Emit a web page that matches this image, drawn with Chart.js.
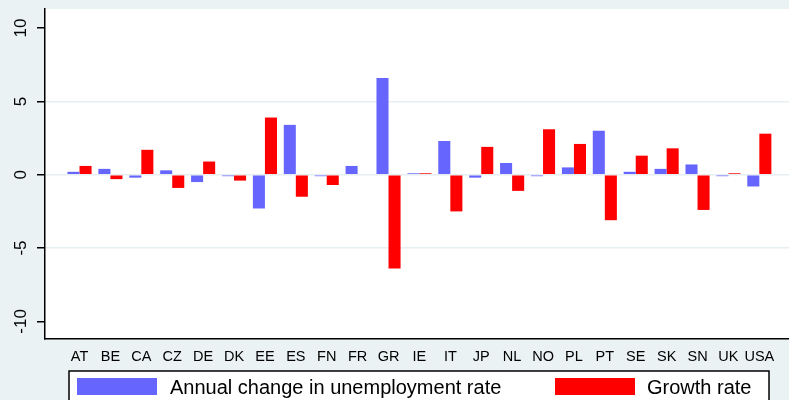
<!DOCTYPE html>
<html>
<head>
<meta charset="utf-8">
<script src="https://cdn.jsdelivr.net/npm/chart.js@4/dist/chart.umd.min.js"></script>
<style>
  html, body { margin: 0; padding: 0; background: #eaf2f3; }
  #wrap { width: 789px; height: 400px; position: relative; }
</style>
</head>
<body>
<div id="wrap"><canvas id="c" width="789" height="400"></canvas></div>
<script>
const countries = ['AT','BE','CA','CZ','DE','DK','EE','ES','FN','FR','GR','IE','IT','JP','NL','NO','PL','PT','SE','SK','SN','UK','USA'];
const unemploymentChange = [0.2, 0.4, -0.2, 0.3, -0.5, -0.1, -2.3, 3.4, -0.1, 0.6, 6.6, 0.1, 2.3, -0.2, 0.8, -0.1, 0.5, 3.0, 0.2, 0.4, 0.7, -0.1, -0.8];
const growthRate = [0.6, -0.3, 1.7, -0.9, 0.9, -0.4, 3.9, -1.5, -0.7, 0, -6.4, 0.1, -2.5, 1.9, -1.1, 3.1, 2.1, -3.1, 1.3, 1.8, -2.4, 0.1, 2.8];
const yTicks = [-10, -5, 0, 5, 10];
const seriesNames = ['Annual change in unemployment rate', 'Growth rate'];
const seriesColors = ['#6666ff', '#ff0000'];

const FONT = "'Liberation Sans', Arial, sans-serif";

const bgPlugin = {
  id: 'plotBg',
  beforeDraw(chart) {
    const {ctx, chartArea: a} = chart;
    ctx.save();
    ctx.fillStyle = '#ffffff';
    ctx.fillRect(a.left, a.top, a.right - a.left, a.bottom - a.top);
    ctx.restore();
  }
};

const legendPlugin = {
  id: 'boxLegend',
  afterDraw(chart) {
    const ctx = chart.ctx;
    ctx.save();
    ctx.fillStyle = '#ffffff';
    ctx.fillRect(69, 371, 700, 40);
    ctx.strokeStyle = '#000000';
    ctx.lineWidth = 1.5;
    ctx.strokeRect(69, 371, 700, 40);
    const items = [
      {x: 77, tx: 170},
      {x: 555, tx: 647}
    ];
    ctx.font = '20px ' + FONT;
    ctx.textBaseline = 'alphabetic';
    ctx.textAlign = 'left';
    items.forEach((it, i) => {
      ctx.fillStyle = chart.data.datasets[i].backgroundColor;
      ctx.fillRect(it.x, 378, 80, 17);
      ctx.fillStyle = '#000000';
      ctx.fillText(chart.data.datasets[i].label, it.tx, 394);
    });
    ctx.restore();
  }
};

new Chart(document.getElementById('c'), {
  type: 'bar',
  data: {
    datasets: [
      {
        label: seriesNames[0],
        data: unemploymentChange.map((v, i) => ({x: i, y: v})),
        backgroundColor: seriesColors[0],
        borderWidth: 0
      },
      {
        label: seriesNames[1],
        data: growthRate.map((v, i) => ({x: i, y: v})),
        backgroundColor: seriesColors[1],
        borderWidth: 0
      }
    ]
  },
  options: {
    responsive: false,
    animation: false,
    devicePixelRatio: 1,
    layout: { padding: { top: 9, left: 0, right: 0, bottom: 0 } },
    datasets: { bar: { categoryPercentage: 0.78, barPercentage: 1.0 } },
    plugins: {
      legend: { display: false },
      tooltip: { enabled: false }
    },
    scales: {
      x: {
        type: 'linear',
        offset: false,
        min: -1.117,
        max: 22.96,
        afterBuildTicks(scale) {
          scale.ticks = countries.map((_, i) => ({value: i}));
        },
        afterFit(scale) { scale.height = 61; scale.paddingLeft = 0; scale.paddingRight = 0; },
        grid: { display: false, drawTicks: false, offset: false },
        border: { display: true, color: '#000000', width: 1.5 },
        ticks: {
          autoSkip: false,
          maxRotation: 0,
          minRotation: 0,
          padding: 9,
          color: '#000000',
          font: { family: FONT, size: 14.5 },
          callback: (v) => countries[v] ?? ''
        }
      },
      y: {
        min: -11.2,
        max: 11.3,
        afterBuildTicks(scale) {
          scale.ticks = yTicks.map(v => ({value: v}));
        },
        afterFit(scale) { scale.width = 45; scale.paddingTop = 0; scale.paddingBottom = 0; },
        grid: {
          color: (ctx) => (ctx.tick && Math.abs(ctx.tick.value) === 10) ? 'rgba(0,0,0,0)' : '#e6eef1',
          lineWidth: 1.5,
          tickColor: '#000000',
          tickLength: 8,
          tickWidth: 1.5
        },
        border: { display: true, color: '#000000', width: 1.5 },
        ticks: {
          minRotation: 90,
          maxRotation: 90,
          crossAlign: 'center',
          padding: 3,
          color: '#000000',
          font: { family: FONT, size: 17 },
          callback: (v) => String(v)
        }
      }
    }
  },
  plugins: [bgPlugin, legendPlugin]
});
</script>
</body>
</html>
